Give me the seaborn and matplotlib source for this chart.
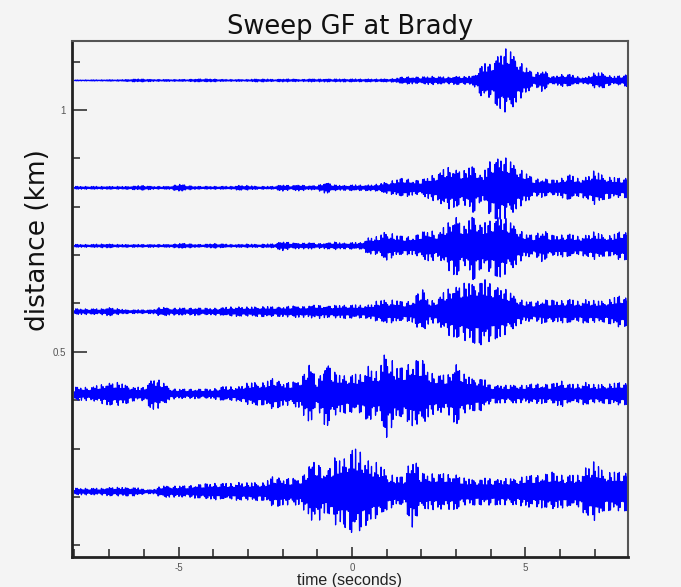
import numpy as np
import pandas as pd
import matplotlib
matplotlib.use("Agg")
import matplotlib.pyplot as plt
import seaborn as sns
from matplotlib.ticker import MultipleLocator, FixedLocator

# Station offsets from the source (km), top to bottom
distances = [1.061, 0.839, 0.719, 0.583, 0.413, 0.211]

# Envelope knots: time (s) every 0.25 s from -8 to 8
knot_times = np.arange(-8.0, 8.0001, 0.25)

# Peak half-amplitude of each trace at the knots (km)
env_1061 = [.001, .001, .0012, .0012, .0015, .0015, .002, .003,
            .003, .002, .002, .002, .002, .002, .003, .003,
            .003, .002, .002, .002, .002, .003, .003, .002,
            .003, .003, .002, .003, .003, .003, .003, .003,
            .003, .003, .003, .003, .003, .004, .008, .007,
            .007, .009, .008, .007, .009, .008, .010, .035,
            .035, .060, .070, .046, .030, .012, .024, .007,
            .012, .013, .008, .006, .017, .016, .008, .010,
            .014]
env_0839 = [.003, .003, .003, .003, .003, .003, .003, .004,
            .005, .003, .003, .003, .008, .005, .003, .003,
            .003, .003, .003, .005, .005, .003, .003, .003,
            .007, .004, .007, .004, .005, .012, .006, .005,
            .006, .006, .006, .008, .012, .016, .021, .015,
            .016, .025, .030, .046, .040, .036, .052, .025,
            .060, .069, .062, .045, .033, .018, .020, .016,
            .018, .028, .020, .022, .038, .025, .022, .020,
            .022]
env_0719 = [.003, .003, .003, .004, .004, .003, .003, .003,
            .003, .003, .003, .003, .005, .005, .003, .003,
            .005, .004, .003, .003, .004, .003, .004, .004,
            .010, .006, .006, .007, .005, .006, .008, .006,
            .007, .007, .018, .020, .031, .022, .020, .018,
            .028, .034, .025, .050, .065, .040, .072, .045,
            .055, .069, .055, .040, .025, .022, .034, .022,
            .022, .025, .020, .022, .031, .022, .022, .031,
            .028]
env_0583 = [.006, .006, .006, .006, .009, .006, .004, .004,
            .004, .004, .010, .007, .008, .007, .008, .007,
            .007, .008, .010, .010, .010, .010, .011, .010,
            .010, .012, .012, .012, .015, .012, .013, .014,
            .014, .014, .014, .024, .024, .024, .020, .022,
            .050, .022, .028, .050, .055, .060, .065, .070,
            .060, .055, .045, .030, .022, .020, .025, .024,
            .022, .026, .022, .025, .024, .022, .028, .034,
            .028]
env_0413 = [.014, .014, .014, .020, .024, .024, .020, .014,
            .014, .034, .028, .012, .010, .010, .010, .010,
            .010, .015, .015, .015, .024, .024, .024, .034,
            .024, .024, .030, .067, .028, .072, .045, .040,
            .040, .042, .060, .045, .095, .055, .055, .067,
            .074, .045, .040, .040, .067, .040, .035, .035,
            .018, .020, .018, .020, .018, .022, .020, .020,
            .028, .020, .020, .024, .020, .020, .022, .024,
            .022]
env_0211 = [.007, .007, .007, .007, .009, .009, .009, .009,
            .005, .004, .012, .012, .012, .012, .014, .016,
            .017, .017, .017, .019, .019, .019, .019, .034,
            .028, .028, .028, .055, .067, .040, .070, .070,
            .090, .086, .062, .062, .040, .031, .031, .076,
            .038, .038, .038, .038, .038, .028, .028, .028,
            .028, .028, .028, .028, .034, .034, .034, .041,
            .034, .034, .034, .050, .066, .041, .041, .041,
            .041]
envelopes = [env_1061, env_0839, env_0719, env_0583, env_0413, env_0211]

# Sample clock for the wiggle traces
dt = 0.004
time = np.arange(-8.0, 8.0 + dt / 2, dt)

# Unit-amplitude oscillation under each envelope: a fast carrier whose
# cycles mostly sit in a dense core, with short bursts up to full height
burst = np.maximum(np.cos(np.pi * 4.3 * time) ** 8,
                   np.cos(np.pi * 6.7 * time + 1.0) ** 8)
osc = np.sin(2 * np.pi * 21.7 * time) * (0.5 + 0.5 * burst)

frames = []
for k, (dist, env) in enumerate(zip(distances, envelopes)):
    amp = np.interp(time, knot_times, env)
    frames.append(pd.DataFrame({
        "time": time,
        "offset": dist + amp * osc,
        "trace": k,
    }))
df = pd.concat(frames, ignore_index=True)

sns.set_theme(style="ticks")
bg = "#f4f4f4"
plt.rcParams["font.family"] = ["DejaVu Sans"]

fig = plt.figure(figsize=(6.81, 5.87), dpi=100, facecolor=bg)
ax = fig.add_axes([0.1053, 0.0511, 0.8164, 0.8791])
ax.set_facecolor(bg)

sns.lineplot(data=df, x="time", y="offset", hue="trace",
             palette=["#0000ff"] * len(distances), estimator=None,
             sort=False, legend=False, linewidth=0.9, ax=ax)

ax.set_xlim(-8.08, 7.95)
ax.set_ylim(0.0758, 1.1426)

ax.xaxis.set_major_locator(FixedLocator([-5, 0, 5]))
ax.xaxis.set_minor_locator(MultipleLocator(1))
ax.yaxis.set_major_locator(FixedLocator([0.5, 1.0]))
ax.yaxis.set_minor_locator(MultipleLocator(0.1))
ax.set_xticklabels(["-5", "0", "5"])
ax.set_yticklabels(["0.5", "1"])

ax.tick_params(axis="both", which="major", direction="in", colors="#333333",
               labelcolor="#555555", labelsize=7, width=1.2)
ax.tick_params(axis="x", which="major", length=7, pad=4)
ax.tick_params(axis="y", which="major", length=11, pad=4)
ax.tick_params(axis="both", which="minor", direction="in", colors="#333333",
               width=1.2, length=6)
for lab in ax.get_xticklabels() + ax.get_yticklabels():
    lab.set_family(["Liberation Sans", "DejaVu Sans"])

for side in ("left", "bottom"):
    ax.spines[side].set_linewidth(2.0)
    ax.spines[side].set_color("#222222")
for side in ("top", "right"):
    ax.spines[side].set_linewidth(1.5)
    ax.spines[side].set_color("#555555")

ax.set_xlabel("time (seconds)", fontsize=11.5, color="#222222",
              family=["Liberation Sans", "DejaVu Sans"], labelpad=0)
ax.set_ylabel("distance (km)", fontsize=19, color="#111111")
ax.yaxis.set_label_coords(-0.038, 0.614)
ax.set_title("Sweep GF at Brady", fontsize=18.5, color="#111111", pad=5)

fig.savefig("out.png", dpi=100, facecolor=bg)
